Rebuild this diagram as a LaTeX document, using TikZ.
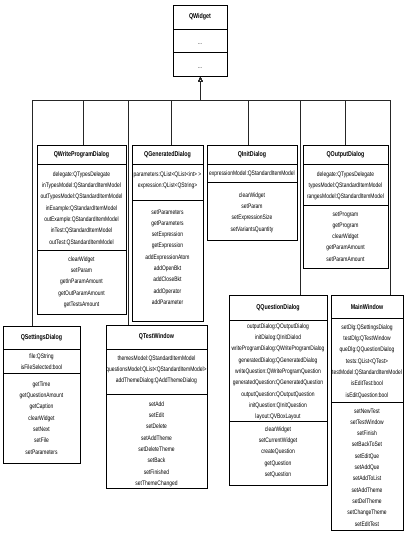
\documentclass[tikz,border=0pt]{standalone}
\usepackage{fontspec}
\setmainfont[FakeStretch=0.76]{Liberation Sans}
\usetikzlibrary{arrows.meta}
\tikzset{
  clsframe/.style={draw=black, line width=0.8pt, inner sep=0pt, anchor=north west},
  sepline/.style={draw=black, line width=0.8pt},
  clshead/.style={font=\fontsize{7}{8}\selectfont\bfseries, inner sep=0pt},
  clsbody/.style={font=\fontsize{6.5}{11.3}\selectfont, align=center, inner sep=0pt, anchor=north},
  inh/.style={draw=black!85, line width=0.7pt, -{Triangle[open,length=5pt,width=4.5pt]}},
}
\newcommand{\umlcls}[8]{%
  \node[clsframe, minimum width={#3pt-#2pt}, minimum height={#7pt-#4pt}] (#1) at (#2,#4) {};
  \draw[sepline] (#2,#5) -- (#3,#5);
  \draw[sepline] (#2,#6) -- (#3,#6);
  \node[clshead] (#1-h) at ({(#2+#3)/2},{(#4+#5)/2}) {#8};
}
\newcommand{\umltxt}[4]{\node[clsbody] (#1) at (#2,{#3-2.6}) {#4};}
\begin{document}
\begin{tikzpicture}[x=1pt,y=-1pt]
\useasboundingbox (0,0) rectangle (407,533);
% QWidget
\umlcls{qw}{173}{227}{5}{29}{52}{76}{QWidget}
\node[clsbody, anchor=base] (qw-a) at (200,44) {...};
\node[clsbody, anchor=base] (qw-m) at (200,68) {...};
% QWriteProgramDialog
\umlcls{qwpd}{37}{126}{145}{164}{250}{314}{QWriteProgramDialog}
\umltxt{qwpd-a}{81.5}{174}{delegate:QTypesDelegate\\inTypesModel:QStandardItemModel\\outTypesModel:QStandardItemModel\\inExample:QStandardItemModel\\outExample:QStandardItemModel\\inTest:QStandardItemModel\\outTest:QStandardItemModel}
\umltxt{qwpd-m}{81.5}{259}{clearWidget\\setParam\\getInParamAmount\\getOutParamAmount\\getTestsAmount}
% QGeneratedDialog
\umlcls{qgd}{132}{203}{145}{164}{200}{321}{QGeneratedDialog}
\umltxt{qgd-a}{167.5}{174}{parameters:QList<QList<int> >\\expression:QList<QString>}
\umltxt{qgd-m}{167.5}{212}{setParameters\\getParameters\\setExpression\\getExpression\\addExpressionAtom\\addOpenBkt\\addCloseBkt\\addOperator\\addParameter}
% QInitDialog
\umlcls{qid}{207}{297}{145}{164}{182}{240}{QInitDialog}
\umltxt{qid-a}{252}{173}{expressionModel:QStandardItemModel}
\umltxt{qid-m}{252}{195}{clearWidget\\setParam\\setExpressionSize\\setVariantsQuantity}
% QOutputDialog
\umlcls{qod}{303}{388}{145}{164}{205}{268}{QOutputDialog}
\umltxt{qod-a}{345.5}{174}{delegate:QTypesDelegate\\typesModel:QStandardItemModel\\rangesModel:QStandardItemModel}
\umltxt{qod-m}{345.5}{214}{setProgram\\getProgram\\clearWidget\\getParamAmount\\setParamAmount}
% QSettingsDialog
\umlcls{qsd}{3}{80}{326}{349}{373}{463}{QSettingsDialog}
\umltxt{qsd-a}{41.5}{356}{file:QString\\isFileSelected:bool}
\umltxt{qsd-m}{41.5}{384}{getTime\\getQuestionAmount\\getCaption\\clearWidget\\setNext\\setFile\\setParameters}
% QTestWindow
\umlcls{qtw}{106}{207}{325}{349}{394}{488}{QTestWindow}
\umltxt{qtw-a}{156.5}{358}{themesModel:QStandardItemModel\\questionsModel:QList<QStandardItemModel>\\addThemeDialog:QAddThemeDialog}
\umltxt{qtw-m}{156.5}{404}{setAdd\\setEdit\\setDelete\\setAddTheme\\setDeleteTheme\\setBack\\setFinished\\setThemeChanged}
% QQuestionDialog
\umlcls{qqd}{229}{327}{295}{320}{421}{485}{QQuestionDialog}
\umltxt{qqd-a}{278}{326}{outputDialog:QOutputDialog\\initDialog:QInitDialod\\writeProgramDialog:QWriteProgramDialog\\generatedDialog:QGeneratedDialog\\writeQuestion:QWriteProgramQuestion\\generatedQuestion:QGeneratedQuestion\\outputQuestion:QOutputQuestion\\initQuestion:QInitQuestion\\layout:QVBoxLayout}
\umltxt{qqd-m}{278}{429}{clearWidget\\setCurrentWidget\\createQuestion\\getQuestion\\setQuestion}
% MainWindow
\umlcls{mw}{331}{403}{295}{318}{402}{530}{MainWindow}
\umltxt{mw-a}{367}{327}{setDlg:QSettingsDialog\\testDlg:QTestWindow\\queDlg:QQuestionDialog\\tests:QList<QTest>\\testModel:QStandardItemModel\\isEditTest:bool\\isEditQuestion:bool}
\umltxt{mw-m}{367}{411}{setNewTest\\setTestWindow\\setFinish\\setBackToSet\\setEditQue\\setAddQue\\setAddToList\\setAddTheme\\setDelTheme\\setChangeTheme\\setEditTest}
% bus drop points
\coordinate (dqsd) at (32,100);
\coordinate (dqwpd) at (83,100);
\coordinate (dqtw) at (128,100);
\coordinate (dqgd) at (171,100);
\coordinate (dqid) at (248,100);
\coordinate (dqqd) at (300,100);
\coordinate (dqod) at (345,100);
\coordinate (dmw) at (390,100);
\foreach \c/\d in {qsd/dqsd, qwpd/dqwpd, qtw/dqtw, qgd/dqgd, qid/dqid, qqd/dqqd, qod/dqod, mw/dmw}
  \draw[inh] (\c.north -| \d) -- (\d) -| (qw.south);
\end{tikzpicture}
\end{document}
